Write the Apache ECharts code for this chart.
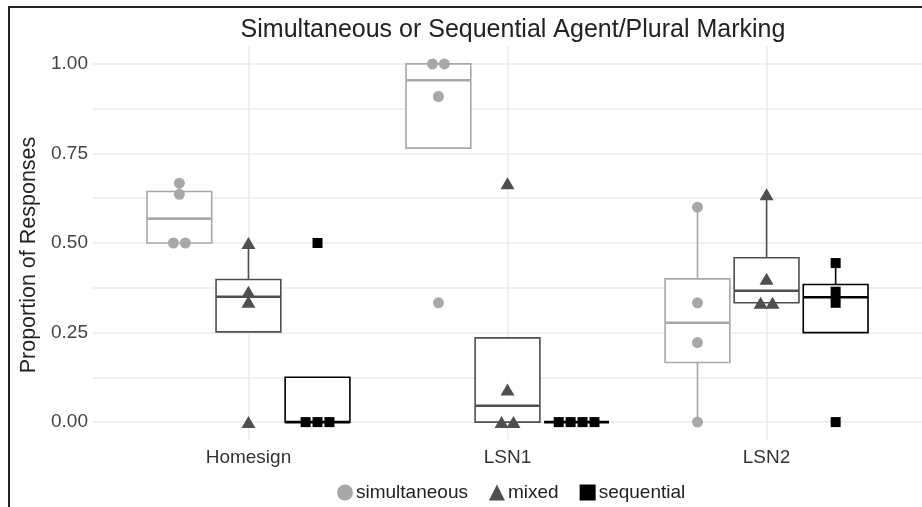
<!DOCTYPE html>
<html>
<head>
<meta charset="utf-8">
<title>Simultaneous or Sequential Agent/Plural Marking</title>
<script src="https://cdn.jsdelivr.net/npm/echarts@6/dist/echarts.min.js"></script>
<style>
  html, body { margin: 0; padding: 0; background: #fff; }
  #chart { width: 922px; height: 507px; }
</style>
</head>
<body>
<div id="chart"></div>
<script>
// data (proportion of responses per participant)
const categories = ["Homesign", "LSN1", "LSN2"];
const groupNames = ["simultaneous", "mixed", "sequential"];
const simultaneous = [[0.667, 0.636, 0.5, 0.5], [1, 1, 0.909, 0.333], [0.6, 0.333, 0.222, 0]];
const mixed = [[0.5, 0.364, 0.336, 0], [0.667, 0.091, 0, 0], [0.636, 0.4, 0.333, 0.333]];
const sequential = [[0.5, 0, 0, 0], [0, 0, 0, 0], [0.444, 0.364, 0.333, 0]];
const yLabels = [0, 0.25, 0.5, 0.75, 1];
const yGrid = [0, 0.125, 0.25, 0.375, 0.5, 0.625, 0.75, 0.875, 1];

const colors = ["#a8a8a8", "#4f4f4f", "#000000"];
const symbols = ["circle", "triangle", "rect"];
const symbolSizes = [11, [14, 12], 10];
const dodge = 0.8 / 3;     // position_dodge(0.8)
const boxWidth = 0.25;     // 0.75 / 3
const swarmStep = 0.046;   // spread for tied values

// quantile type 7 (R default)
function quantile(sorted, p) {
  const h = (sorted.length - 1) * p;
  const lo = Math.floor(h);
  const hi = Math.ceil(h);
  return sorted[lo] + (h - lo) * (sorted[hi] - sorted[lo]);
}

// ggplot-like boxplot stats
function boxStats(values) {
  const s = values.slice().sort((a, b) => a - b);
  const q1 = quantile(s, 0.25), med = quantile(s, 0.5), q3 = quantile(s, 0.75);
  const iqr = q3 - q1;
  const inside = s.filter((v) => v >= q1 - 1.5 * iqr && v <= q3 + 1.5 * iqr);
  const lo = Math.min(q1, ...inside);
  const hi = Math.max(q3, ...inside);
  return [lo, q1, med, q3, hi];
}

const groups = [simultaneous, mixed, sequential];
const series = [];

groups.forEach((g, gi) => {
  const off = (gi - 1) * dodge;
  // box
  const boxData = g.map((vals, ci) => [ci + 1 + off].concat(boxStats(vals)));
  series.push({
    type: "custom",
    name: groupNames[gi] + "-box",
    z: 2,
    silent: true,
    data: boxData,
    renderItem: function (params, api) {
      const x = api.value(0);
      const pLo = api.coord([x, api.value(1)]);
      const pQ1 = api.coord([x, api.value(2)]);
      const pMed = api.coord([x, api.value(3)]);
      const pQ3 = api.coord([x, api.value(4)]);
      const pHi = api.coord([x, api.value(5)]);
      const left = api.coord([x - boxWidth / 2, 0])[0];
      const right = api.coord([x + boxWidth / 2, 0])[0];
      const line = { stroke: colors[gi], lineWidth: 1.6 };
      return {
        type: "group",
        children: [
          { type: "line", shape: { x1: pHi[0], y1: pHi[1], x2: pQ3[0], y2: pQ3[1] }, style: line },
          { type: "line", shape: { x1: pLo[0], y1: pLo[1], x2: pQ1[0], y2: pQ1[1] }, style: line },
          {
            type: "rect",
            shape: { x: left, y: pQ3[1], width: right - left, height: pQ1[1] - pQ3[1] },
            style: { fill: "#fff", stroke: colors[gi], lineWidth: 1.6 }
          },
          { type: "line", shape: { x1: left, y1: pMed[1], x2: right, y2: pMed[1] }, style: { stroke: colors[gi], lineWidth: 2.6 } }
        ]
      };
    }
  });

  // points, ties spread side by side
  const pts = [];
  g.forEach((vals, ci) => {
    const counts = {};
    vals.forEach((v) => { counts[v] = (counts[v] || 0) + 1; });
    const seen = {};
    vals.forEach((v) => {
      const n = counts[v];
      const i = seen[v] || 0;
      seen[v] = i + 1;
      pts.push([ci + 1 + off + (i - (n - 1) / 2) * swarmStep, v]);
    });
  });
  series.push({
    type: "scatter",
    name: groupNames[gi],
    z: 5,
    symbol: symbols[gi],
    symbolSize: symbolSizes[gi],
    itemStyle: { color: colors[gi], opacity: 1 },
    data: pts
  });
});

const myChart = echarts.init(document.getElementById("chart"));
const option = {
  animation: false,
  textStyle: { fontFamily: "Liberation Sans" },
  title: {
    text: "Simultaneous or Sequential Agent/Plural Marking",
    left: 508,
    top: 13,
    textAlign: "center",
    textStyle: { fontSize: 25, fontWeight: "normal", color: "#222", fontFamily: "Liberation Sans" }
  },
  grid: { left: 93, right: -2, top: 46, bottom: 67 },
  legend: {
    data: groupNames.map((n, i) => ({ name: n, icon: symbols[i] })),
    left: 332,
    top: 478,
    itemWidth: 16,
    itemHeight: 16,
    itemGap: 21,
    textStyle: { fontSize: 19, color: "#222", padding: [0, 0, 0, -2] }
  },
  xAxis: {
    type: "value",
    min: 0.4,
    max: 3.6,
    axisLine: { show: false },
    axisTick: { show: false, customValues: [1, 2, 3] },
    axisLabel: {
      customValues: [1, 2, 3],
      formatter: (v) => categories[Math.round(v) - 1],
      fontSize: 19,
      color: "#333",
      margin: 8
    },
    splitLine: { show: true, lineStyle: { color: "#ebebeb", width: 1.5 } }
  },
  yAxis: {
    type: "value",
    min: -0.05,
    max: 1.05,
    name: "Proportion of Responses",
    nameLocation: "middle",
    nameRotate: 90,
    nameGap: 52,
    nameTextStyle: { fontSize: 21.5, color: "#222", padding: [0, 24, 0, 0] },
    axisLine: { show: false },
    axisTick: { show: false, customValues: yGrid },
    axisLabel: {
      customValues: yLabels,
      formatter: (v) => v.toFixed(2),
      fontSize: 19,
      color: "#444",
      margin: 5
    },
    splitLine: { show: true, lineStyle: { color: "#ebebeb", width: 1.5 } }
  },
  graphic: [
    { type: "line", shape: { x1: 8, y1: 7, x2: 922, y2: 7 }, style: { stroke: "#222", lineWidth: 2 } },
    { type: "line", shape: { x1: 9, y1: 7, x2: 9, y2: 507 }, style: { stroke: "#222", lineWidth: 2 } }
  ],
  series: series
};
myChart.setOption(option);
</script>
</body>
</html>
